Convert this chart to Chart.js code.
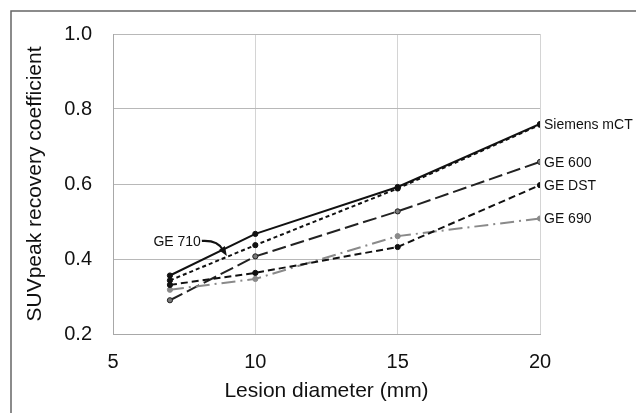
<!DOCTYPE html>
<html><head><meta charset="utf-8">
<script src="https://cdn.jsdelivr.net/npm/chart.js@4.4.0/dist/chart.umd.min.js"></script>
<style>html,body{margin:0;padding:0;background:#fff;} #wrap{width:636px;height:413px;position:relative;}</style>
</head><body><div id="wrap"><canvas id="c" width="636" height="413"></canvas></div>
<script>
const diameters = [7, 10, 15, 20];
const siemensMCT = [0.356, 0.467, 0.592, 0.760];
const ge710 = [0.343, 0.437, 0.588, 0.758];
const ge600 = [0.290, 0.407, 0.527, 0.659];
const geDST = [0.331, 0.363, 0.432, 0.597];
const ge690 = [0.318, 0.347, 0.461, 0.508];
const xTicks = [5, 10, 15, 20];
const yTicks = [0.2, 0.4, 0.6, 0.8, 1.0];
const seriesNames = ['Siemens mCT', 'GE 710', 'GE 600', 'GE DST', 'GE 690'];

const FONT = '"Liberation Sans", Arial, Helvetica, sans-serif';
const pts = arr => diameters.map((d, i) => ({x: d, y: arr[i]}));

function ds(label, data, color, dash, ptBg, ptBorder) {
  return {
    label, data: pts(data), borderColor: color, borderWidth: 2, borderDash: dash,
    pointRadius: 2.6, pointBackgroundColor: ptBg, pointBorderColor: ptBorder, pointBorderWidth: 1,
    fill: false, tension: 0
  };
}

const framePlugin = {
  id: 'frame',
  beforeDraw(chart) {
    const ctx = chart.ctx;
    ctx.save();
    ctx.strokeStyle = '#666';
    ctx.lineWidth = 1.5;
    ctx.strokeRect(11, 11, 900, 900);
    ctx.restore();
  }
};

const annotPlugin = {
  id: 'annot',
  afterDatasetsDraw(chart) {
    const ctx = chart.ctx;
    const xs = chart.scales.x, ys = chart.scales.y;
    ctx.save();
    ctx.fillStyle = '#111';
    ctx.font = '14px ' + FONT;
    ctx.textBaseline = 'middle';
    ctx.textAlign = 'left';
    const last = diameters.length - 1;
    const rightLabels = [[siemensMCT, 'Siemens mCT'], [ge600, 'GE 600'], [geDST, 'GE DST'], [ge690, 'GE 690']];
    rightLabels.forEach(([arr, name]) => {
      ctx.fillText(name, xs.getPixelForValue(diameters[last]) + 4, ys.getPixelForValue(arr[last]) + 1);
    });
    // GE 710 label with curved arrow
    const v9 = ge710[0] + (ge710[1] - ge710[0]) * (9 - diameters[0]) / (diameters[1] - diameters[0]);
    const tx = xs.getPixelForValue(9) - 1, ty = ys.getPixelForValue(v9) - 2;
    ctx.textAlign = 'right';
    ctx.fillText('GE 710', tx - 25, ty - 13);
    ctx.strokeStyle = '#111';
    ctx.lineWidth = 2.2;
    ctx.beginPath();
    ctx.moveTo(tx - 24, ty - 14);
    ctx.quadraticCurveTo(tx - 8, ty - 15, tx - 3, ty - 5);
    ctx.stroke();
    ctx.beginPath();
    ctx.moveTo(tx + 1, ty + 1);
    ctx.lineTo(tx - 7, ty - 5);
    ctx.lineTo(tx - 1, ty - 9);
    ctx.closePath();
    ctx.fill();
    ctx.restore();
  }
};

new Chart(document.getElementById('c'), {
  type: 'line',
  data: {
    datasets: [
      ds(seriesNames[3], geDST, '#111', [7, 4], '#111', '#111'),
      ds(seriesNames[4], ge690, '#8a8a8a', [14, 5, 2, 5], '#8a8a8a', '#8a8a8a'),
      ds(seriesNames[2], ge600, '#222', [14, 5], '#777', '#222'),
      ds(seriesNames[1], ge710, '#111', [4, 3], '#111', '#111'),
      ds(seriesNames[0], siemensMCT, '#111', [], '#111', '#111')
    ]
  },
  options: {
    responsive: false,
    animation: false,
    layout: {padding: {left: 0, right: 96, top: 34, bottom: 0}},
    plugins: {legend: {display: false}, tooltip: {enabled: false}},
    scales: {
      x: {
        type: 'linear', min: 5, max: 20,
        afterBuildTicks: s => { s.ticks = xTicks.map(v => ({value: v})); },
        afterFit: s => { s.height = 79; },
        grid: {color: '#d4d4d4', lineWidth: 1, drawTicks: false},
        border: {color: '#a8a8a8', width: 1},
        ticks: {padding: 16, color: '#111', font: {family: FONT, size: 20}},
        title: {display: true, text: 'Lesion diameter (mm)', color: '#111', font: {family: FONT, size: 21}, padding: {top: 0, bottom: 9}}
      },
      y: {
        type: 'linear', min: 0.2, max: 1.0,
        afterBuildTicks: s => { s.ticks = yTicks.map(v => ({value: v})); },
        afterFit: s => { s.width = 113; },
        grid: {color: '#b8b8b8', lineWidth: 1, drawTicks: false},
        border: {color: '#a8a8a8', width: 1},
        ticks: {padding: 21, color: '#111', font: {family: FONT, size: 20}, callback: v => Number(v).toFixed(1)},
        title: {display: true, text: 'SUVpeak recovery coefficient', color: '#111', font: {family: FONT, size: 21}, padding: {top: 23, bottom: 0}}
      }
    }
  },
  plugins: [framePlugin, annotPlugin]
});
</script>
</body></html>
